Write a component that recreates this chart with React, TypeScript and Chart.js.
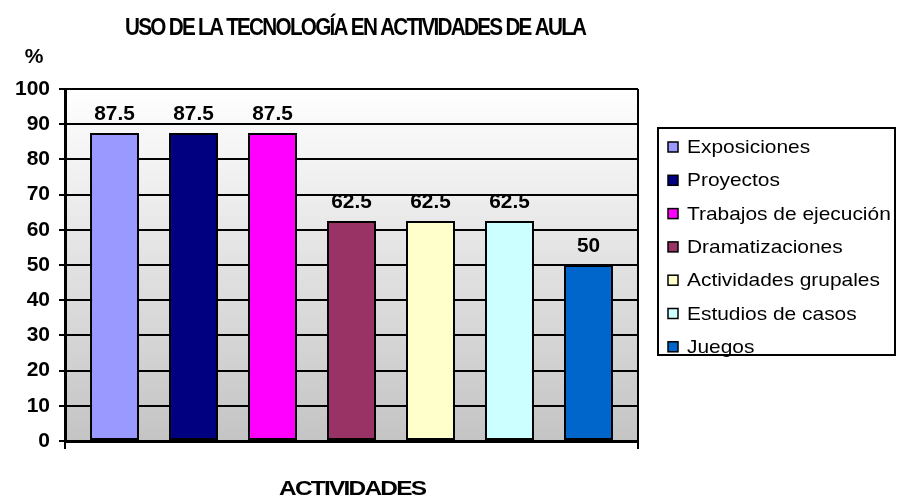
import React, { useEffect, useRef } from "react";
import { Chart, registerables } from "chart.js";

Chart.register(...registerables);

const TITLE = "USO DE LA TECNOLOGÍA EN ACTIVIDADES DE AULA";
const X_TITLE = "ACTIVIDADES";
const Y_UNIT = "%";
const CATEGORIES = [""];
const SERIES_LABELS = [
  "Exposiciones",
  "Proyectos",
  "Trabajos de ejecución",
  "Dramatizaciones",
  "Actividades grupales",
  "Estudios de casos",
  "Juegos",
];
const SERIES_VALUES = [87.5, 87.5, 87.5, 62.5, 62.5, 62.5, 50];
const SERIES_COLORS = ["#9999FF", "#000080", "#FF00FF", "#993366", "#FFFFCC", "#CCFFFF", "#0066CC"];
const Y_MIN = 0;
const Y_MAX = 100;
const Y_STEP = 10;

const FONT = "'Liberation Sans', Arial, sans-serif";

// draw text horizontally scaled to a target width
function fitText(ctx: CanvasRenderingContext2D, text: string, cx: number, y: number, width: number, spacing = 0) {
  (ctx as any).letterSpacing = `${spacing}px`;
  const w = ctx.measureText(text).width - spacing;
  const s = width / w;
  ctx.save();
  ctx.translate(cx, y);
  ctx.scale(s, 1);
  ctx.textAlign = "left";
  ctx.fillText(text, -w / 2, 0);
  ctx.restore();
  (ctx as any).letterSpacing = "0px";
}

function leftText(ctx: CanvasRenderingContext2D, text: string, x: number, y: number, sx: number) {
  ctx.save();
  ctx.translate(x, y);
  ctx.scale(sx, 1);
  ctx.textAlign = "left";
  ctx.fillText(text, 0, 0);
  ctx.restore();
}

const bgPlugin = {
  id: "plotBg",
  beforeDraw(chart: any) {
    const { ctx, chartArea: a } = chart;
    const g = ctx.createLinearGradient(0, a.top, 0, a.bottom);
    g.addColorStop(0, "#ffffff");
    g.addColorStop(1, "#c4c4c4");
    ctx.save();
    ctx.fillStyle = g;
    ctx.fillRect(a.left, a.top, a.right - a.left, a.bottom - a.top);
    ctx.restore();
  },
};

const labelsPlugin = {
  id: "valueLabels",
  afterDatasetsDraw(chart: any) {
    const { ctx } = chart;
    ctx.save();
    ctx.font = `bold 20px ${FONT}`;
    ctx.fillStyle = "#000";
    ctx.textBaseline = "alphabetic";
    chart.data.datasets.forEach((ds: any, i: number) => {
      const meta = chart.getDatasetMeta(i);
      meta.data.forEach((bar: any, j: number) => {
        const t = String(ds.data[j]);
        const w = ctx.measureText(t).width;
        fitText(ctx, t, bar.x, bar.y - 13, w * 1.04);
      });
    });
    ctx.restore();
  },
};

const textPlugin = {
  id: "texts",
  afterDraw(chart: any) {
    const { ctx } = chart;
    ctx.save();
    ctx.fillStyle = "#000";
    ctx.textBaseline = "alphabetic";
    // title
    ctx.font = `bold 24px ${FONT}`;
    fitText(ctx, TITLE, 356, 35, 462, -2);
    // x title
    ctx.font = `bold 21px ${FONT}`;
    fitText(ctx, X_TITLE, 353, 495, 148, -1.5);
    // unit
    ctx.font = `bold 21px ${FONT}`;
    ctx.textAlign = "center";
    ctx.fillText(Y_UNIT, 34, 63);

    // legend
    const lx = 658, ly = 128, lw = 237, lh = 227;
    ctx.fillStyle = "#fff";
    ctx.fillRect(lx, ly, lw, lh);
    ctx.strokeStyle = "#000";
    ctx.lineWidth = 2;
    ctx.strokeRect(lx, ly, lw, lh);
    ctx.font = `18.5px ${FONT}`;
    ctx.textBaseline = "middle";
    chart.data.datasets.forEach((ds: any, i: number) => {
      const cy = 147 + i * 33.3;
      ctx.fillStyle = ds.backgroundColor;
      ctx.fillRect(668, cy - 5, 10, 10);
      ctx.lineWidth = 1.5;
      ctx.strokeStyle = "#000";
      ctx.strokeRect(668, cy - 5, 10, 10);
      ctx.fillStyle = "#000";
      leftText(ctx, ds.label, 687, cy + 1, 1.13);
    });
    ctx.restore();
  },
};

export default function App() {
  const ref = useRef<HTMLCanvasElement>(null);
  useEffect(() => {
    if (!ref.current) return;
    const chart = new Chart(ref.current, {
      type: "bar",
      data: {
        labels: CATEGORIES,
        datasets: SERIES_LABELS.map((label, i) => ({
          label,
          data: [SERIES_VALUES[i]],
          backgroundColor: SERIES_COLORS[i],
          borderColor: "#000",
          borderWidth: 2,
          borderSkipped: false,
          categoryPercentage: 0.965,
          barPercentage: 0.62,
        })),
      },
      options: {
        animation: false,
        responsive: true,
        maintainAspectRatio: false,
        layout: { padding: { left: 0, top: 89, right: 259, bottom: 47 } },
        plugins: {
          legend: { display: false },
          title: { display: false },
          tooltip: { enabled: false },
        },
        scales: {
          x: {
            offset: true,
            grid: { display: true, offset: true, color: "#000", lineWidth: 2, drawTicks: true, tickLength: 8 },
            border: { display: true, color: "#000", width: 3 },
            ticks: { display: false },
            afterFit: (s: any) => { s.height = 10; },
          },
          y: {
            min: Y_MIN,
            max: Y_MAX,
            ticks: {
              stepSize: Y_STEP,
              color: "#000",
              padding: 9,
              font: { family: FONT, size: 21, weight: "bold" },
            },
            grid: { color: "#000", lineWidth: 2, drawTicks: true, tickLength: 6 },
            border: { display: true, color: "#000", width: 3 },
            afterFit: (s: any) => { s.width = 65; },
          },
        },
      },
      plugins: [bgPlugin, labelsPlugin, textPlugin],
    });
    return () => chart.destroy();
  }, []);
  return (
    <div style={{ position: "fixed", left: 0, top: 0, width: 897, height: 498 }}>
      <canvas ref={ref} />
    </div>
  );
}
